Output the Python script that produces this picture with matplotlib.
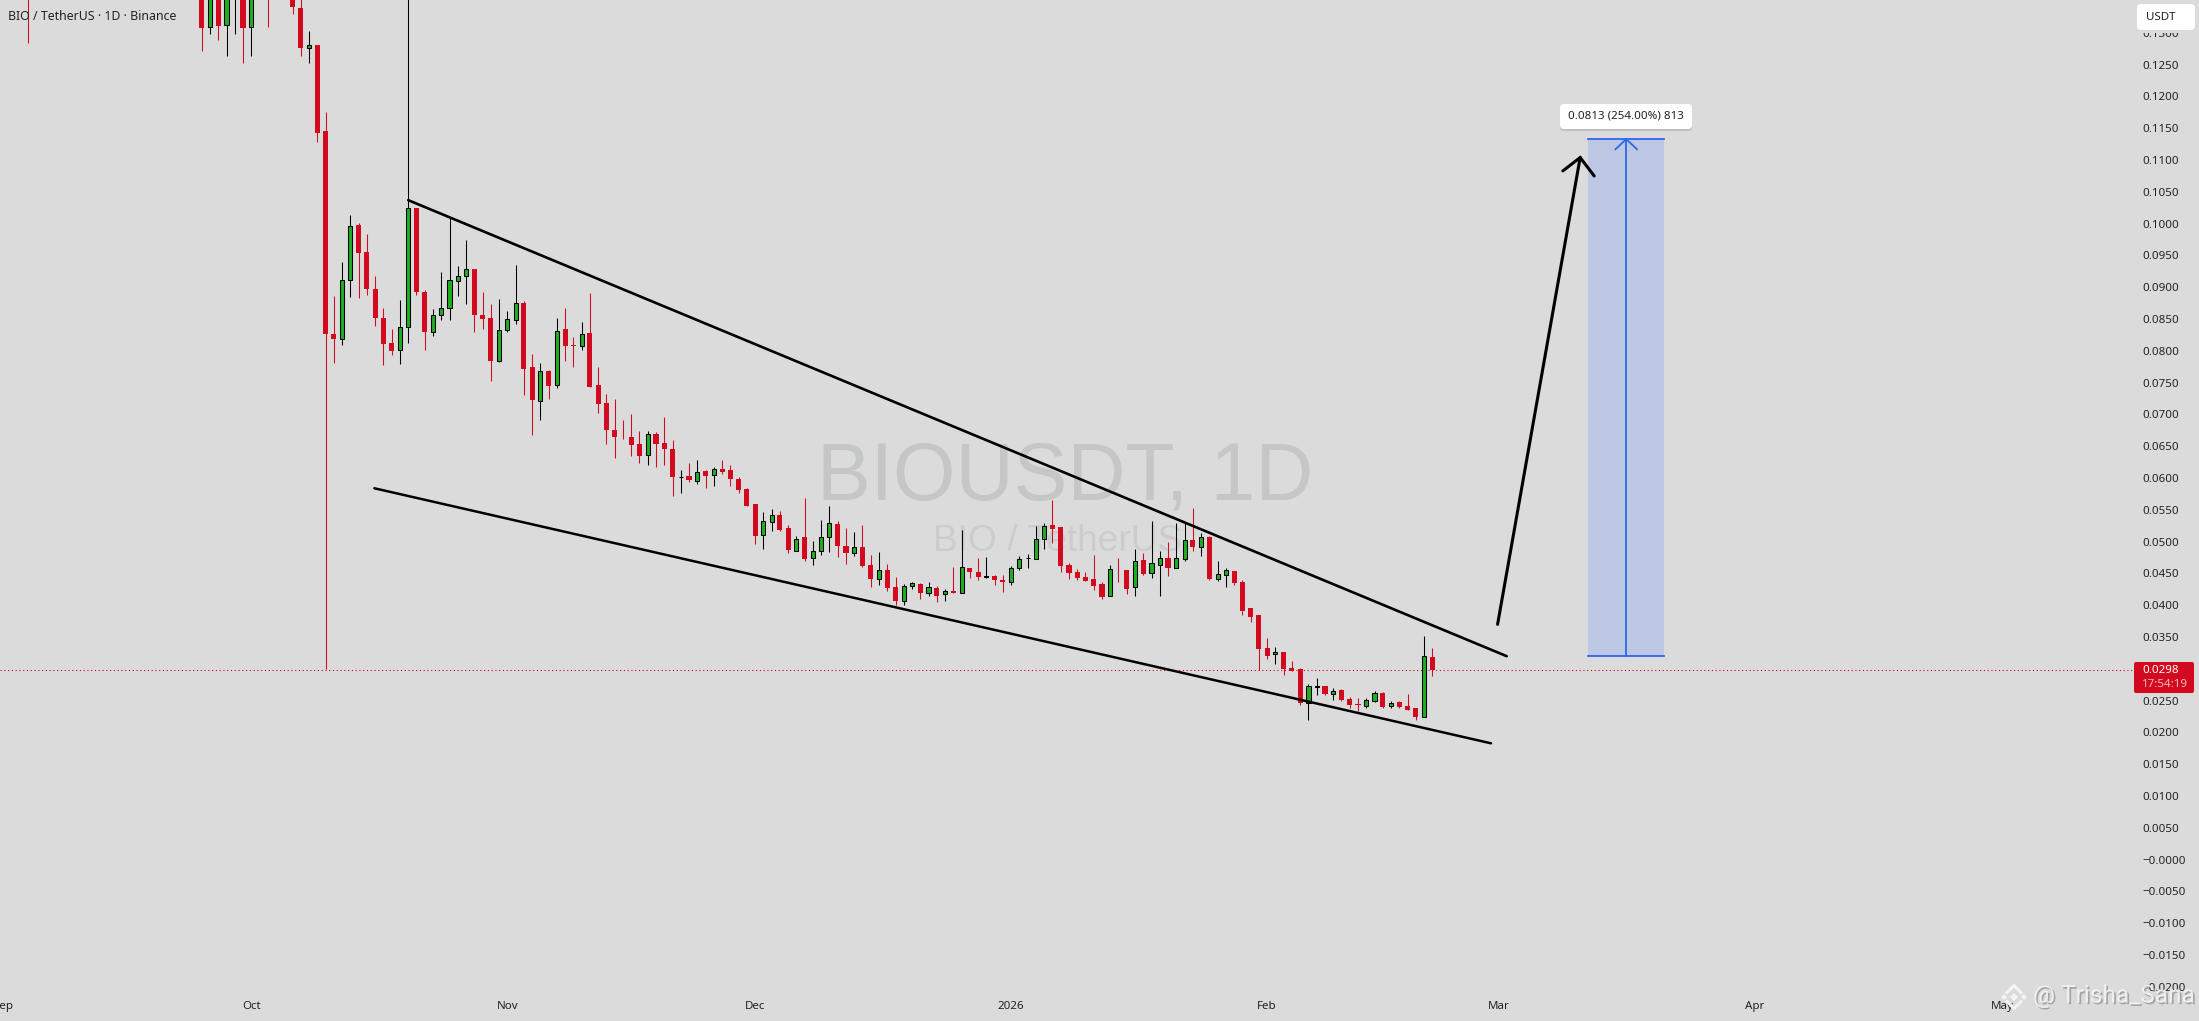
import numpy as np
import matplotlib
matplotlib.use("Agg")
import matplotlib.pyplot as plt
import matplotlib.patheffects as pe
from matplotlib.patches import FancyBboxPatch, Polygon, Rectangle
from matplotlib.lines import Line2D
from matplotlib.transforms import Affine2D

W, H = 2199, 1021
BG = "#dbdbdb"
RED = "#d2091f"
GREEN = "#1fae1f"
BLUE = "#2f66ee"

# daily candles, day 0 = 1 Oct 2025 (bodies above the top edge are cut off in the source)
days = [-27] + list(range(-6, 144))
opens = [
    0.1460,
    0.1450, 0.1310, 0.1420, 0.1312, 0.1380, 0.1420, 0.1309,
    0.1400, 0.1380, 0.1370, 0.1390, 0.1375, 0.1339, 0.1277, 0.1281, 0.1146,
    0.0826, 0.0818, 0.0912, 0.0998, 0.0955, 0.0898, 0.0851, 0.0812, 0.0802, 0.0837,
    0.1024, 0.0892, 0.0829, 0.0856, 0.0867, 0.0910, 0.0917, 0.0928, 0.0856, 0.0852,
    0.0784, 0.0833, 0.0848, 0.0875, 0.0775, 0.0721, 0.0768, 0.0747, 0.0834, 0.0809,
    0.0807, 0.0828, 0.0746, 0.0718, 0.0676, 0.0665, 0.0664, 0.0653, 0.0636, 0.0669,
    0.0655, 0.0645, 0.0601, 0.0603, 0.0596, 0.0611, 0.0605, 0.0614, 0.0613, 0.0599,
    0.0583, 0.0559, 0.0511, 0.0531, 0.0542, 0.0521, 0.0486, 0.0507, 0.0474, 0.0485,
    0.0508, 0.0528, 0.0494, 0.0483, 0.0492, 0.0463, 0.0442, 0.0455, 0.0429, 0.0406,
    0.0431, 0.0433, 0.0420, 0.0427, 0.0417, 0.0423, 0.0420, 0.0458, 0.0453, 0.0444,
    0.0446, 0.0439, 0.0437, 0.0458, 0.0474, 0.0473, 0.0505, 0.0526, 0.0523, 0.0463,
    0.0452, 0.0444, 0.0441, 0.0433, 0.0414, 0.0456, 0.0455, 0.0428, 0.0471, 0.0450,
    0.0464, 0.0474, 0.0459, 0.0473, 0.0502, 0.0491, 0.0507, 0.0441, 0.0448, 0.0454,
    0.0437, 0.0395, 0.0384, 0.0333, 0.0323, 0.0327, 0.0301, 0.0300, 0.0247, 0.0272,
    0.0273, 0.0261, 0.0267, 0.0253, 0.0245, 0.0242, 0.0250, 0.0262, 0.0241, 0.0248,
    0.0241, 0.0238, 0.0225, 0.0319,
]
closes = [
    0.1410,
    0.1308, 0.1420, 0.1311, 0.1400, 0.1420, 0.1308, 0.1400,
    0.1380, 0.1370, 0.1390, 0.1375, 0.1340, 0.1277, 0.1281, 0.1143, 0.0826,
    0.0818, 0.0912, 0.0997, 0.0954, 0.0898, 0.0851, 0.0811, 0.0800, 0.0837, 0.1024,
    0.0892, 0.0829, 0.0856, 0.0867, 0.0911, 0.0917, 0.0928, 0.0857, 0.0850, 0.0784,
    0.0833, 0.0850, 0.0875, 0.0772, 0.0722, 0.0768, 0.0745, 0.0832, 0.0808, 0.0808,
    0.0827, 0.0744, 0.0717, 0.0675, 0.0665, 0.0664, 0.0652, 0.0635, 0.0669, 0.0654,
    0.0645, 0.0601, 0.0602, 0.0597, 0.0609, 0.0604, 0.0614, 0.0609, 0.0599, 0.0582,
    0.0556, 0.0509, 0.0532, 0.0542, 0.0519, 0.0487, 0.0505, 0.0473, 0.0485, 0.0508,
    0.0529, 0.0494, 0.0483, 0.0491, 0.0462, 0.0442, 0.0455, 0.0427, 0.0406, 0.0431,
    0.0435, 0.0419, 0.0428, 0.0415, 0.0423, 0.0420, 0.0460, 0.0453, 0.0445, 0.0446,
    0.0440, 0.0436, 0.0459, 0.0472, 0.0475, 0.0504, 0.0524, 0.0520, 0.0462, 0.0451,
    0.0443, 0.0438, 0.0430, 0.0413, 0.0457, 0.0455, 0.0426, 0.0469, 0.0449, 0.0466,
    0.0475, 0.0459, 0.0474, 0.0502, 0.0492, 0.0507, 0.0441, 0.0449, 0.0455, 0.0435,
    0.0391, 0.0382, 0.0332, 0.0321, 0.0326, 0.0300, 0.0297, 0.0247, 0.0273, 0.0273,
    0.0260, 0.0265, 0.0251, 0.0243, 0.0244, 0.0251, 0.0262, 0.0240, 0.0247, 0.0240,
    0.0235, 0.0224, 0.0320, 0.0298,
]
highs = [
    0.1470,
    0.1460, 0.1430, 0.1430, 0.1410, 0.1430, 0.1430, 0.1410,
    0.1410, 0.1390, 0.1400, 0.1400, 0.1385, 0.1360, 0.1303, 0.1281, 0.1175,
    0.0886, 0.0939, 0.1013, 0.1001, 0.0984, 0.0918, 0.0867, 0.0834, 0.0880, 0.1450,
    0.1024, 0.0896, 0.0866, 0.0924, 0.1011, 0.0933, 0.0974, 0.0928, 0.0893, 0.0874,
    0.0882, 0.0863, 0.0935, 0.0878, 0.0795, 0.0781, 0.0770, 0.0852, 0.0867, 0.0822,
    0.0845, 0.0891, 0.0775, 0.0732, 0.0724, 0.0691, 0.0701, 0.0674, 0.0674, 0.0672,
    0.0696, 0.0660, 0.0612, 0.0624, 0.0628, 0.0613, 0.0617, 0.0628, 0.0621, 0.0602,
    0.0584, 0.0560, 0.0546, 0.0551, 0.0548, 0.0526, 0.0509, 0.0568, 0.0501, 0.0534,
    0.0556, 0.0533, 0.0522, 0.0515, 0.0526, 0.0479, 0.0484, 0.0465, 0.0444, 0.0433,
    0.0437, 0.0435, 0.0436, 0.0431, 0.0426, 0.0460, 0.0518, 0.0458, 0.0474, 0.0476,
    0.0448, 0.0448, 0.0462, 0.0477, 0.0481, 0.0525, 0.0530, 0.0566, 0.0523, 0.0467,
    0.0457, 0.0452, 0.0479, 0.0436, 0.0464, 0.0475, 0.0455, 0.0488, 0.0482, 0.0532,
    0.0485, 0.0500, 0.0529, 0.0530, 0.0553, 0.0514, 0.0509, 0.0470, 0.0458, 0.0454,
    0.0440, 0.0396, 0.0385, 0.0349, 0.0334, 0.0327, 0.0313, 0.0301, 0.0277, 0.0285,
    0.0273, 0.0270, 0.0268, 0.0256, 0.0254, 0.0255, 0.0265, 0.0264, 0.0250, 0.0250,
    0.0261, 0.0238, 0.0352, 0.0333,
]
lows = [
    0.1284,
    0.1272, 0.1299, 0.1289, 0.1263, 0.1299, 0.1253, 0.1263,
    0.1365, 0.1310, 0.1360, 0.1360, 0.1329, 0.1264, 0.1253, 0.1129, 0.0300,
    0.0781, 0.0810, 0.0885, 0.0883, 0.0888, 0.0839, 0.0778, 0.0794, 0.0780, 0.0813,
    0.0888, 0.0801, 0.0824, 0.0849, 0.0848, 0.0887, 0.0874, 0.0830, 0.0835, 0.0753,
    0.0783, 0.0830, 0.0843, 0.0731, 0.0668, 0.0692, 0.0725, 0.0742, 0.0784, 0.0775,
    0.0801, 0.0744, 0.0703, 0.0654, 0.0632, 0.0661, 0.0634, 0.0624, 0.0621, 0.0618,
    0.0621, 0.0572, 0.0577, 0.0594, 0.0590, 0.0584, 0.0587, 0.0607, 0.0588, 0.0577,
    0.0556, 0.0496, 0.0489, 0.0517, 0.0517, 0.0483, 0.0486, 0.0470, 0.0463, 0.0479,
    0.0484, 0.0476, 0.0465, 0.0478, 0.0460, 0.0429, 0.0432, 0.0423, 0.0400, 0.0401,
    0.0426, 0.0410, 0.0415, 0.0405, 0.0407, 0.0420, 0.0420, 0.0443, 0.0440, 0.0443,
    0.0432, 0.0421, 0.0432, 0.0455, 0.0459, 0.0473, 0.0488, 0.0498, 0.0453, 0.0442,
    0.0440, 0.0438, 0.0424, 0.0410, 0.0414, 0.0437, 0.0418, 0.0415, 0.0448, 0.0443,
    0.0415, 0.0446, 0.0459, 0.0470, 0.0486, 0.0478, 0.0440, 0.0438, 0.0429, 0.0432,
    0.0385, 0.0374, 0.0298, 0.0316, 0.0308, 0.0291, 0.0296, 0.0243, 0.0219, 0.0259,
    0.0259, 0.0251, 0.0250, 0.0238, 0.0234, 0.0238, 0.0248, 0.0238, 0.0239, 0.0239,
    0.0235, 0.0219, 0.0225, 0.0289,
]

month_days = [-30, 0, 31, 61, 92, 123, 151, 182, 212]
month_labels = ["Sep", "Oct", "Nov", "Dec", "2026", "Feb", "Mar", "Apr", "May"]

price_ticks = [round(-0.02 + 0.005 * i, 4) for i in range(31)]
price_labels = ["−0.0200", "−0.0150", "−0.0100", "−0.0050", "−0.0000", "0.0050", "0.0100", "0.0150",
                "0.0200", "0.0250", "0.0300", "0.0350", "0.0400", "0.0450", "0.0500", "0.0550",
                "0.0600", "0.0650", "0.0700", "0.0750", "0.0800", "0.0850", "0.0900", "0.0950",
                "0.1000", "0.1050", "0.1100", "0.1150", "0.1200", "0.1250", "0.1300"]

current_price = 0.0298

# trendlines and projection, as (day, price)
upper_days, upper_prices = [19.0, 152.0], [0.1037, 0.0320]
lower_days, lower_prices = [14.9, 150.1], [0.0584, 0.0183]
arrow_days, arrow_prices = [150.9, 160.9], [0.0370, 0.1104]
barb_days, barb_prices = [158.8, 160.9, 162.6], [0.1083, 0.1104, 0.1075]
target_left, target_right = 161.9, 171.05
target_bottom, target_top = 0.0320, 0.1133

plt.rcParams["font.family"] = ["Noto Sans", "DejaVu Sans"]

fig = plt.figure(figsize=(W / 100, H / 100), dpi=100, facecolor=BG)
ax = fig.add_axes([0, 1 - 993 / H, 2135 / W, 993 / H], facecolor=BG)

# pixel coords from the top-left corner, for the chrome around the chart
px = Affine2D().scale(1, -1).translate(0, H)

day_px = 8.259
ax.set_xlim(-251.3 / day_px, (2135 - 251.3) / day_px)
ax.set_ylim(0.13517 - 993 * 0.00015723, 0.13517)

for s in ax.spines.values():
    s.set_visible(False)

ax.text(1065, 478, "BIOUSDT, 1D", transform=px, fontsize=58, color="#c5c7c7",
        family="Liberation Sans", ha="center", va="center", zorder=0)
ax.text(1058, 541, "BIO / TetherUS", transform=px, fontsize=26.7, color="#cbcdcd",
        family="Liberation Sans", ha="center", va="center", zorder=0)

d = np.array(days)
o = np.array(opens)
c = np.array(closes)
h = np.array(highs)
l = np.array(lows)
up = c >= o
ax.vlines(d[~up], l[~up], h[~up], color=RED, lw=0.75, zorder=2)
ax.vlines(d[up], l[up], h[up], color="black", lw=0.75, zorder=2)
ax.bar(d[~up], (o - c)[~up], bottom=c[~up], width=0.62, color=RED, lw=0, zorder=3)
ax.bar(d[up], (c - o)[up], bottom=o[up], width=0.5, color=GREEN, edgecolor="black", lw=0.75, zorder=3)

ax.axhline(current_price, color=RED, lw=0.8, ls=(0, (1, 2.4)), zorder=1)

ax.plot(upper_days, upper_prices, color="black", lw=1.9, zorder=4, solid_capstyle="round")
ax.plot(lower_days, lower_prices, color="black", lw=1.8, zorder=4, solid_capstyle="round")
ax.plot(arrow_days, arrow_prices, color="black", lw=2.2, zorder=4, solid_capstyle="round")
ax.plot(barb_days, barb_prices, color="black", lw=2.2, zorder=4, solid_capstyle="round",
        solid_joinstyle="miter")

ax.add_patch(Rectangle((target_left, target_bottom), target_right - target_left, target_top - target_bottom,
                       facecolor="#bcc8e3", lw=0, zorder=1))
ax.plot([target_left, target_right], [target_top, target_top], color=BLUE, lw=1.3, zorder=2)
ax.plot([target_left, target_right], [target_bottom, target_bottom], color=BLUE, lw=1.3, zorder=2)
target_mid = (target_left + target_right) / 2
ax.plot([target_mid, target_mid], [target_bottom, target_top], color=BLUE, lw=1.3, zorder=2)
ax.plot([target_mid - 1.3, target_mid, target_mid + 1.3],
        [target_top - 0.0016, target_top, target_top - 0.0016], color=BLUE, lw=1.3, zorder=2)

ax.set_xticks(month_days, month_labels)
ax.set_yticks(price_ticks, price_labels)
ax.yaxis.tick_right()
ax.tick_params(axis="x", length=0, pad=6, labelsize=8.3, labelcolor="#222222")
ax.tick_params(axis="y", length=0, pad=5, labelsize=8.3, labelcolor="#222222")
for t in ax.get_yticklabels():
    t.set_ha("left")
for t in ax.get_xticklabels():
    if t.get_text() == "2026":
        t.set_fontweight("bold")

ax.text(8, 16.5, "BIO / TetherUS · 1D · Binance", transform=px, fontsize=8.9, color="#222222",
        ha="left", va="center", zorder=6, fontweight="medium")


def round_box(x0, y0, x1, y1, color, rad=3, shadow=False):
    box = FancyBboxPatch((x0 + rad, y0 + rad), x1 - x0 - 2 * rad, y1 - y0 - 2 * rad,
                         boxstyle=f"round,pad={rad},rounding_size={rad}", facecolor=color, lw=0,
                         transform=px, clip_on=False, zorder=6)
    if shadow:
        box.set_path_effects([pe.withSimplePatchShadow(offset=(0, -1.5), alpha=0.12, shadow_rgbFace="black")])
    ax.add_patch(box)


round_box(1560, 104, 1692, 129, "white", rad=4, shadow=True)
ax.text(1626, 116, "0.0813 (254.00%) 813", transform=px, fontsize=8.3, color="#222222",
        ha="center", va="center", zorder=7)

# the 0.1300 label is half hidden under the currency box
ax.add_patch(Rectangle((2137, 26), 58, 6.5, facecolor=BG, lw=0, transform=px, clip_on=False, zorder=5))
round_box(2137, 4, 2195, 30, "white", rad=4)
ax.text(2146, 17, "USDT", transform=px, fontsize=8.3, color="#222222", ha="left", va="center", zorder=7)

round_box(2134, 662, 2194, 693, RED, rad=2)
ax.text(2142, 670, "0.0298", transform=px, fontsize=8.3, color="white", fontweight="bold",
        ha="left", va="center", zorder=7)
ax.text(2142, 684.5, "17:54:19", transform=px, fontsize=8.3, color="#f6b9c1", fontweight="bold",
        ha="left", va="center", zorder=7)

# source watermark
shadow = [pe.withSimplePatchShadow(offset=(1.2, -1.2), alpha=0.55, shadow_rgbFace="#777777")]
ax.text(2033, 996, "@ Trisha_Sana", transform=px, fontsize=17.6, color="#f4f4f4", family="Roboto",
        ha="left", va="center", zorder=8, alpha=0.9, path_effects=shadow)
lx, ly = 2014, 997
for cx, cy, r in [(lx, ly, 4), (lx - 10, ly, 3), (lx + 10, ly, 3)]:
    ax.add_patch(Polygon([(cx - r, cy), (cx, cy - r), (cx + r, cy), (cx, cy + r)], closed=True,
                         facecolor="#f4f4f4", lw=0, transform=px, clip_on=False, zorder=8))
for sign in (-1, 1):
    ax.add_line(Line2D([lx - 7, lx, lx + 7], [ly + sign * 4.5, ly + sign * 11.5, ly + sign * 4.5],
                       color="#f4f4f4", lw=2.2, transform=px, clip_on=False, zorder=8,
                       solid_joinstyle="miter"))

fig.savefig("out.png", dpi=100, facecolor=BG)
